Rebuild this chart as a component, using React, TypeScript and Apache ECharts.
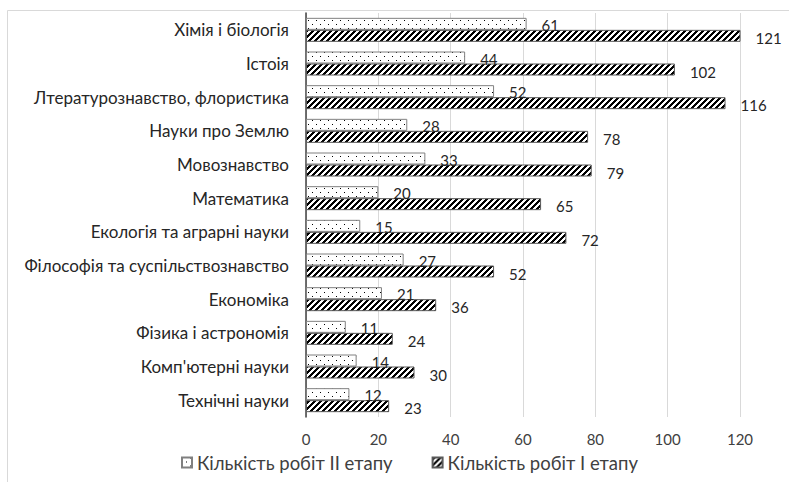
import React, { useEffect, useRef } from 'react';
import * as echarts from 'echarts';

const categories = [
  'Хімія і біологія',
  'Істоія',
  'Лтературознавство, флористика',
  'Науки про Землю',
  'Мовознавство',
  'Математика',
  'Екологія та аграрні науки',
  'Філософія та суспільствознавство',
  'Економіка',
  'Фізика і астрономія',
  "Комп'ютерні науки",
  'Технічні науки',
];
const stage2Values = [61, 44, 52, 28, 33, 20, 15, 27, 21, 11, 14, 12];
const stage1Values = [121, 102, 116, 78, 79, 65, 72, 52, 36, 24, 30, 23];
const seriesNames = ['Кількість робіт II етапу', 'Кількість робіт I етапу'];
const axisMin = 0;
const axisMax = 120;
const axisStep = 20;

const FONT = "Lato, 'Liberation Sans', sans-serif";

function makeTile(size: number, fn: (x: number, y: number) => boolean): HTMLCanvasElement {
  const c = document.createElement('canvas');
  c.width = size;
  c.height = size;
  const ctx = c.getContext('2d')!;
  const img = ctx.createImageData(size, size);
  for (let y = 0; y < size; y++) {
    for (let x = 0; x < size; x++) {
      const on = fn(x, y);
      const i = (y * size + x) * 4;
      const v = on ? 0 : 255;
      img.data[i] = v;
      img.data[i + 1] = v;
      img.data[i + 2] = v;
      img.data[i + 3] = 255;
    }
  }
  ctx.putImageData(img, 0, 0);
  return c;
}

export default function App() {
  const ref = useRef<HTMLDivElement>(null);
  useEffect(() => {
    if (!ref.current) return;
    const chart = echarts.init(ref.current, undefined, { renderer: 'svg' });
    const dots = makeTile(8, (x, y) => (x === 0 && y === 0) || (x === 4 && y === 4));
    const hatch = makeTile(6, (x, y) => (x + y) % 6 < 3);
    const dotPattern: any = { image: dots.toDataURL(), repeat: 'repeat', imageWidth: 8, imageHeight: 8 };
    const hatchPattern: any = { image: hatch.toDataURL(), repeat: 'repeat', imageWidth: 6, imageHeight: 6 };

    chart.setOption({
      animation: false,
      backgroundColor: '#ffffff',
      textStyle: { fontFamily: FONT },
      graphic: [
        {
          type: 'rect',
          shape: { x: 7.5, y: 10.5, width: 1000, height: 1000 },
          style: { fill: 'none', stroke: '#d9d9d9', lineWidth: 1 },
          silent: true,
          z: -10,
        },
      ],
      grid: { left: 306, right: 49, top: 13, bottom: 65, containLabel: false },
      legend: {
        bottom: 5,
        left: 176,
        itemWidth: 10,
        itemHeight: 10,
        itemGap: 39,
        icon: 'rect',
        textStyle: { fontSize: 18.5, color: '#404040', fontFamily: FONT },
        data: seriesNames,
      },
      xAxis: {
        type: 'value',
        min: axisMin,
        max: axisMax,
        interval: axisStep,
        axisLine: { show: false },
        axisTick: { show: false },
        axisLabel: { fontSize: 15, color: '#404040', margin: 14, fontFamily: FONT },
        splitLine: { lineStyle: { color: '#d9d9d9', width: 1 } },
      },
      yAxis: {
        type: 'category',
        data: categories,
        inverse: true,
        axisLine: { show: true, lineStyle: { color: '#404040', width: 1.5 } },
        axisTick: { show: false },
        axisLabel: { fontSize: 17, color: '#262626', margin: 17, fontFamily: FONT },
        splitLine: { show: false },
      },
      series: [
        {
          name: seriesNames[0],
          type: 'bar',
          data: stage2Values,
          barWidth: 12,
          barGap: '0%',
          itemStyle: { color: dotPattern, borderColor: '#808080', borderWidth: 1 },
          label: {
            show: true,
            position: 'right',
            distance: 15,
            offset: [0, 1],
            fontSize: 15,
            color: '#262626',
            fontFamily: FONT,
          },
        },
        {
          name: seriesNames[1],
          type: 'bar',
          data: stage1Values,
          barWidth: 12,
          barGap: '0%',
          itemStyle: { color: hatchPattern, borderColor: '#595959', borderWidth: 1 },
          label: {
            show: true,
            position: 'right',
            distance: 15,
            offset: [0, 2],
            fontSize: 15,
            color: '#262626',
            fontFamily: FONT,
          },
        },
      ],
    });
    return () => chart.dispose();
  }, []);
  return (
    <div
      ref={ref}
      style={{ position: 'fixed', left: 0, top: 0, width: 789, height: 482 }}
    />
  );
}
